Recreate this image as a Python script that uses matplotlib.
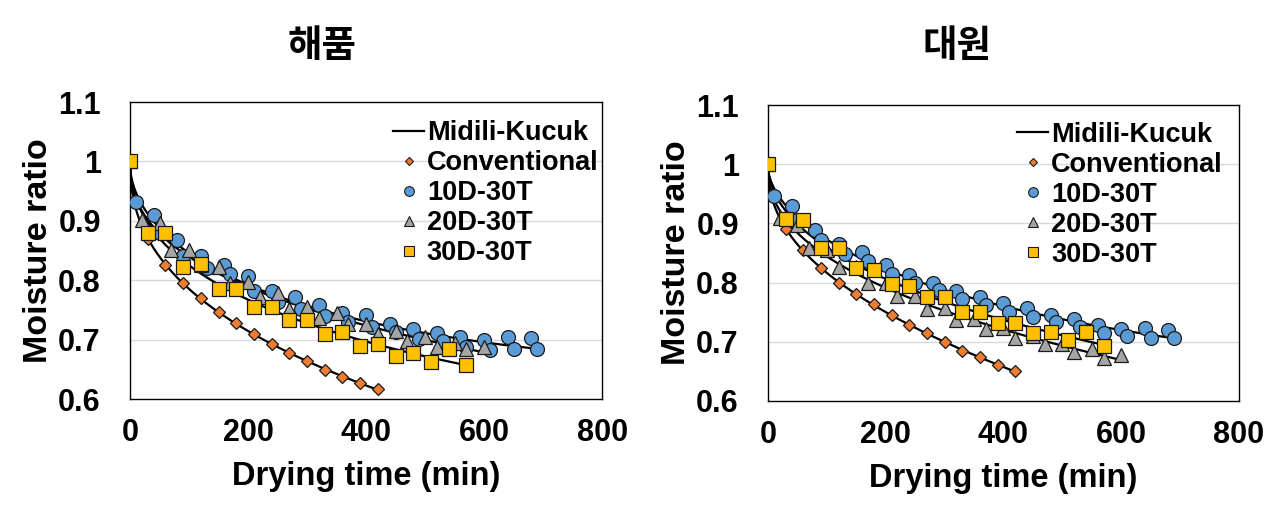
import numpy as np
import matplotlib
matplotlib.use("Agg")
import matplotlib.pyplot as plt
from matplotlib.lines import Line2D

# ---------------- data ----------------
titles = ["해품", "대원"]
series_names = ["Conventional", "10D-30T", "20D-30T", "30D-30T"]

# 해품 (left)
L_conv_t = [0, 30, 60, 90, 120, 150, 180, 210, 240, 270, 300, 330, 360, 390, 420]
L_conv_mr = [1.0, 0.870, 0.826, 0.795, 0.770, 0.746, 0.728, 0.709, 0.692, 0.677, 0.664, 0.649, 0.637, 0.627, 0.617]

L_10d_t = [0, 10, 40, 50, 80, 90, 120, 130, 160, 170, 200, 210, 240, 250, 280, 290, 320, 330,
           360, 370, 400, 410, 440, 450, 480, 490, 520, 530, 560, 570, 600, 610, 640, 650, 680, 690]
L_10d_mr = [1.0, 0.932, 0.909, 0.879, 0.868, 0.841, 0.840, 0.820, 0.826, 0.810, 0.807, 0.782,
            0.782, 0.764, 0.772, 0.752, 0.758, 0.740, 0.744, 0.729, 0.741, 0.722, 0.726, 0.712,
            0.718, 0.701, 0.711, 0.697, 0.704, 0.688, 0.700, 0.682, 0.705, 0.684, 0.702, 0.684]

L_20d_t = [0, 20, 50, 70, 100, 120, 150, 170, 200, 220, 250, 270, 300, 320, 350, 370, 400, 420,
           450, 470, 500, 520, 550, 570, 600]
L_20d_mr = [1.0, 0.901, 0.896, 0.851, 0.851, 0.826, 0.822, 0.795, 0.797, 0.772, 0.778, 0.752,
            0.755, 0.736, 0.744, 0.727, 0.727, 0.710, 0.715, 0.698, 0.704, 0.687, 0.694, 0.684, 0.688]

L_30d_t = [0, 30, 60, 90, 120, 150, 180, 210, 240, 270, 300, 330, 360, 390, 420, 450, 480, 510, 540, 570]
L_30d_mr = [1.0, 0.879, 0.879, 0.823, 0.828, 0.786, 0.786, 0.755, 0.755, 0.733, 0.733, 0.710,
            0.712, 0.689, 0.692, 0.672, 0.678, 0.662, 0.684, 0.657]

# 대원 (right)
R_conv_t = [0, 30, 60, 90, 120, 150, 180, 210, 240, 270, 300, 330, 360, 390, 420]
R_conv_mr = [1.0, 0.890, 0.855, 0.825, 0.800, 0.780, 0.763, 0.745, 0.728, 0.714, 0.699, 0.685, 0.674, 0.661, 0.651]

R_10d_t = [0, 10, 40, 50, 80, 90, 120, 130, 160, 170, 200, 210, 240, 250, 280, 290, 320, 330,
           360, 370, 400, 410, 440, 450, 480, 490, 520, 530, 560, 570, 600, 610, 640, 650, 680, 690]
R_10d_mr = [1.0, 0.947, 0.929, 0.905, 0.889, 0.872, 0.865, 0.849, 0.852, 0.836, 0.830, 0.815,
            0.813, 0.799, 0.799, 0.787, 0.786, 0.772, 0.776, 0.762, 0.765, 0.751, 0.757, 0.742,
            0.746, 0.733, 0.738, 0.725, 0.728, 0.715, 0.721, 0.710, 0.723, 0.706, 0.720, 0.706]

R_20d_t = [0, 20, 50, 70, 100, 120, 150, 170, 200, 220, 250, 270, 300, 320, 350, 370, 400, 420,
           450, 470, 500, 520, 550, 570, 600]
R_20d_mr = [1.0, 0.909, 0.897, 0.858, 0.855, 0.826, 0.826, 0.799, 0.799, 0.778, 0.778, 0.755,
            0.757, 0.737, 0.739, 0.722, 0.724, 0.707, 0.709, 0.697, 0.697, 0.682, 0.687, 0.672, 0.678]

R_30d_t = [0, 30, 60, 90, 120, 150, 180, 210, 240, 270, 300, 330, 360, 390, 420, 450, 480, 510, 540, 570]
R_30d_mr = [1.0, 0.907, 0.905, 0.859, 0.859, 0.824, 0.821, 0.797, 0.795, 0.775, 0.775, 0.750,
            0.751, 0.732, 0.732, 0.715, 0.717, 0.703, 0.717, 0.693]

x_ticks = [0, 200, 400, 600, 800]
y_ticks = [0.6, 0.7, 0.8, 0.9, 1.0, 1.1]
y_ticklabels = ["0.6", "0.7", "0.8", "0.9", "1", "1.1"]

# ---------------- Midili-Kucuk fit: MR = a*exp(-k t^n) + b t ----------------
def fit_mk(t, y):
    t = np.asarray(t, float)
    y = np.asarray(y, float)
    ks = np.logspace(-4, 0.5, 400)
    best = (np.inf, None)
    St2 = np.sum(t * t)
    Sty = np.sum(t * y)
    for n in np.linspace(0.1, 1.6, 151):
        E = np.exp(-ks[:, None] * (t[None, :] ** n))
        SEE = np.sum(E * E, axis=1)
        SEt = E @ t
        SEy = E @ y
        det = SEE * St2 - SEt ** 2
        a = (SEy * St2 - SEt * Sty) / det
        b = (SEE * Sty - SEt * SEy) / det
        pred = a[:, None] * E + b[:, None] * t[None, :]
        sse = np.sum((pred - y[None, :]) ** 2, axis=1)
        i = np.argmin(sse)
        if sse[i] < best[0]:
            best = (sse[i], (a[i], ks[i], n, b[i]))
    return best[1]

def mk(tt, p):
    a, k, n, b = p
    return a * np.exp(-k * tt ** n) + b * tt

# ---------------- style ----------------
colors = ["#ED7D31", "#5B9BD5", "#A5A5A5", "#FFC000"]
markers = ["D", "o", "^", "s"]
msizes = [6.0, 10.0, 10.5, 9.5]

plt.rcParams["font.family"] = ["Liberation Sans", "DejaVu Sans"]

fig = plt.figure(figsize=(12.81, 5.15), dpi=100)
ax_pos = [[0.1015, 0.2252, 0.3685, 0.5767], [0.5995, 0.2214, 0.3677, 0.5747]]
legend_anchor = [(1.021, 0.985), (0.994, 0.99)]
title_pos = [(0.251, 0.912), (0.747, 0.912)]

panels = [
    [(L_conv_t, L_conv_mr), (L_10d_t, L_10d_mr), (L_20d_t, L_20d_mr), (L_30d_t, L_30d_mr)],
    [(R_conv_t, R_conv_mr), (R_10d_t, R_10d_mr), (R_20d_t, R_20d_mr), (R_30d_t, R_30d_mr)],
]

for pi, panel in enumerate(panels):
    ax = fig.add_axes(ax_pos[pi])
    # fitted lines
    for (t, mr) in panel:
        p = fit_mk(t, mr)
        tt = np.linspace(0, max(t), 600)
        ax.plot(tt, mk(tt, p), color="black", lw=1.6, zorder=2)
    for si, (t, mr) in enumerate(panel):
        ax.plot(t, mr, linestyle="none", marker=markers[si], ms=msizes[si],
                mfc=colors[si], mec="#1a1a1a", mew=0.9, zorder=3 + si)

    ax.set_xlim(0, 800)
    ax.set_ylim(0.6, 1.1)
    ax.set_xticks(x_ticks)
    ax.set_xticklabels([str(v) for v in x_ticks], fontsize=22, fontweight="bold")
    ax.set_yticks(y_ticks)
    ax.set_yticklabels(y_ticklabels, fontsize=22, fontweight="bold")
    ax.tick_params(axis="both", length=0)
    ax.tick_params(axis="y", pad=21)
    ax.tick_params(axis="x", pad=14)
    for yv in [0.7, 0.8, 0.9, 1.0]:
        ax.axhline(yv, color="#D9D9D9", lw=1.0, zorder=1)
    for s in ax.spines.values():
        s.set_color("black")
        s.set_linewidth(1.0)
    ax.set_xlabel("Drying time (min)", fontsize=23.5, fontweight="bold", labelpad=9)
    ax.set_ylabel("Moisture ratio", fontsize=24.5, fontweight="bold", labelpad=3)
    fig.text(title_pos[pi][0], title_pos[pi][1], titles[pi], fontsize=27, fontweight="bold",
             ha="center", va="center", family=["Noto Sans CJK KR", "DejaVu Sans"])

    handles = [Line2D([], [], color="black", lw=1.6)]
    for si in range(4):
        handles.append(Line2D([], [], linestyle="none", marker=markers[si], ms=msizes[si] * 0.7,
                              mfc=colors[si], mec="#1a1a1a", mew=0.8))
    leg = ax.legend(handles, ["Midili-Kucuk"] + series_names, loc="upper right",
                    bbox_to_anchor=legend_anchor[pi], frameon=False,
                    prop={"size": 19.5, "weight": "bold"}, handlelength=1.15,
                    handletextpad=0.1, labelspacing=0.15, borderaxespad=0.2, borderpad=0.3)

fig.savefig("out.png", dpi=100)
